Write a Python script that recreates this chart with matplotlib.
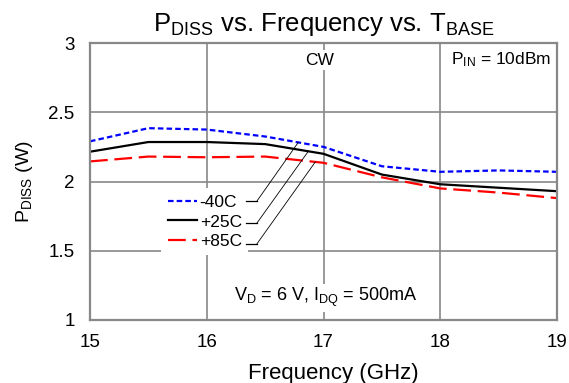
import matplotlib.pyplot as plt

plt.rcParams['font.family'] = ['Liberation Sans', 'DejaVu Sans']
plt.rcParams['mathtext.fontset'] = 'custom'
plt.rcParams['mathtext.rm'] = 'Liberation Sans'
plt.rcParams['mathtext.it'] = 'Liberation Sans'

freq = [15, 15.5, 16, 16.5, 17, 17.5, 18, 18.5, 19]
p_m40 = [2.29, 2.385, 2.375, 2.325, 2.25, 2.11, 2.07, 2.08, 2.07]
p_p25 = [2.215, 2.285, 2.285, 2.27, 2.20, 2.05, 1.98, 1.955, 1.93]
p_p85 = [2.145, 2.18, 2.175, 2.18, 2.135, 2.03, 1.95, 1.92, 1.88]
labels = ['-40C', '+25C', '+85C']

# legend row heights and curve points the leader lines run to
leader_y = [1.859, 1.70, 1.55]
leader_fx = [16.784, 16.87, 16.93]

GRID = '#888888'

fig = plt.figure(figsize=(5.69, 3.83), dpi=100)
ax = fig.add_axes([90 / 569, 1 - 320 / 383, 467 / 569, 277 / 383])

l1, = ax.plot(freq, p_m40, color='blue', lw=1.6, dashes=(2.5, 1.4), label=labels[0])
l2, = ax.plot(freq, p_p25, color='black', lw=1.6, label=labels[1])
l3, = ax.plot(freq, p_p85, color='red', lw=1.6, dashes=(8, 3), label=labels[2])

ax.set_xlim(15, 19)
ax.set_ylim(1, 3)
ax.set_xticks([15, 16, 17, 18, 19])
ax.set_yticks([1, 1.5, 2, 2.5, 3])
ax.set_yticklabels(['1', '1.5', '2', '2.5', '3'])
ax.grid(True, color=GRID, lw=1.2)
ax.set_axisbelow(True)
ax.tick_params(length=0, labelsize=13.5)
ax.tick_params(axis='y', pad=11)
ax.tick_params(axis='x', pad=10)
for s in ax.spines.values():
    s.set_color(GRID)
    s.set_linewidth(1.6)

ax.set_title(r'P$_{\mathrm{DISS}}$ vs. Frequency vs. T$_{\mathrm{BASE}}$', fontsize=18.5, pad=9)
ax.set_xlabel('Frequency (GHz)', fontsize=16, labelpad=6)
ax.xaxis.set_label_coords(0.52, -0.155)
ax.set_ylabel(r'P$_{\mathrm{DISS}}$ (W)', fontsize=14, labelpad=10)

box = dict(facecolor='white', edgecolor='none', pad=2)
ax.text(16.97, 2.877, 'CW', fontsize=12.5, ha='center', va='center', bbox=box)
ax.text(18.95, 2.877, r'P$_{\mathrm{IN}}$ = 10dBm', fontsize=12.5, ha='right', va='center', bbox=box)
ax.text(17.02, 1.16, r'V$_{\mathrm{D}}$ = 6 V, I$_{\mathrm{DQ}}$ = 500mA', fontsize=13,
        ha='center', va='center', bbox=box)

leg = ax.legend(handles=[l1, l2, l3], loc='center', bbox_to_anchor=(0.2455, 0.354),
                fontsize=12.5, frameon=True, framealpha=1, edgecolor='none',
                handlelength=1.7, handletextpad=0.15, labelspacing=0.27,
                borderpad=0.35, borderaxespad=0)
leg.get_frame().set_boxstyle('square', pad=0)

# leader lines from legend entries to the curves
for y, fx, series in zip(leader_y, leader_fx, [p_m40, p_p25, p_p85]):
    ax.plot([16.34, 16.43], [y, y], color='black', lw=0.9, zorder=6)
    i = max(k for k in range(len(freq)) if freq[k] <= fx)
    t = (fx - freq[i]) / (freq[i + 1] - freq[i])
    cy = series[i] + t * (series[i + 1] - series[i])
    ax.plot([16.43, fx], [y, cy], color='black', lw=0.6, zorder=6)

fig.savefig('out.png', dpi=100)
